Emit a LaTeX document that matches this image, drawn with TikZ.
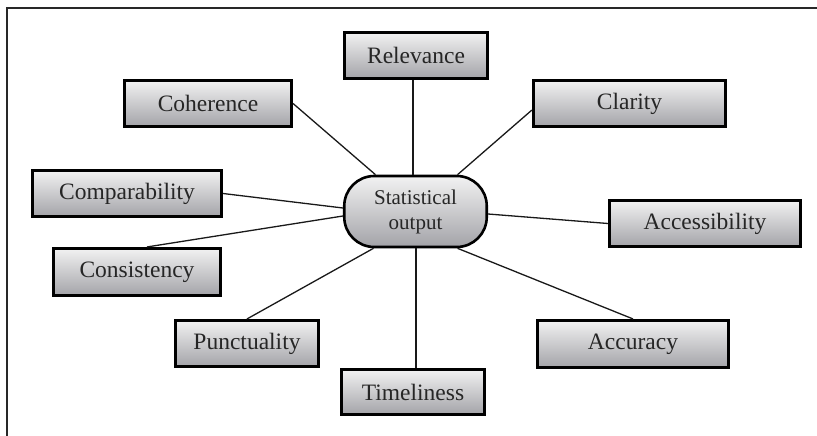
\documentclass[tikz,border=0pt]{standalone}
\usepackage{fontspec}
\setmainfont{Liberation Serif}
\definecolor{boxtop}{RGB}{242,242,242}
\definecolor{boxbot}{RGB}{163,163,168}
\definecolor{framecol}{RGB}{40,40,40}
\begin{document}
\begin{tikzpicture}[x=1pt,y=-1pt,
  qbox/.style={draw=black, line width=2.6pt, top color=boxtop, bottom color=boxbot,
    inner sep=0pt, minimum height=46.5pt, font=\fontsize{23.5}{27}\selectfont, text=black!85},
  hub/.style={draw=black, line width=2.6pt, top color=boxtop, bottom color=boxbot,
    rounded corners=30pt, inner sep=0pt, minimum width=142.5pt, minimum height=71pt,
    align=center, font=\fontsize{21}{25}\selectfont, text=black!85},
  link/.style={draw=black!90, line width=1.3pt}]
\useasboundingbox (0,0) rectangle (817,436);
\draw[framecol, line width=1.8pt] (7,436) -- (7,8) -- (817,8);

\node[hub] (c) at (415.5,211.5) {Statistical\\output};

\node[qbox, minimum width=143.5pt] (rel) at (416,55.5) {Relevance};
\node[qbox, minimum width=167.5pt] (coh) at (208,103.5) {Coherence};
\node[qbox, minimum width=192.5pt] (cla) at (629.5,103.5) {Clarity};
\node[qbox, minimum width=189.5pt] (comp) at (127,193.5) {Comparability};
\node[qbox, minimum width=167.5pt, minimum height=47.5pt] (cons) at (137,272) {Consistency};
\node[qbox, minimum width=191.5pt] (acc) at (705,223.5) {Accessibility};
\node[qbox, minimum width=143.5pt] (pun) at (247,343.5) {Punctuality};
\node[qbox, minimum width=143.5pt, minimum height=45.5pt] (tim) at (413,392) {Timeliness};
\node[qbox, minimum width=191.5pt, minimum height=47.5pt] (accu) at (633,344) {Accuracy};

\draw[link] ([xshift=-40pt]c.north) -- (coh.east);
\draw[link] ([xshift=-2.5pt]c.north) -- ([xshift=-3pt]rel.south);
\draw[link] ([xshift=42pt]c.north) -- ([yshift=-6.5pt]cla.west);
\draw[link] ([yshift=3.5pt]c.west) -- (comp.east);
\draw[link] ([yshift=-4.5pt]c.west) -- ([xshift=10pt]cons.north);
\draw[link] ([yshift=-2.5pt]c.east) -- (acc.west);
\draw[link] ([xshift=-42pt]c.south) -- (pun.north);
\draw[link] ([xshift=0.5pt]c.south) -- ([xshift=3pt]tim.north);
\draw[link] ([xshift=42pt]c.south) -- (accu.north);
\end{tikzpicture}
\end{document}
